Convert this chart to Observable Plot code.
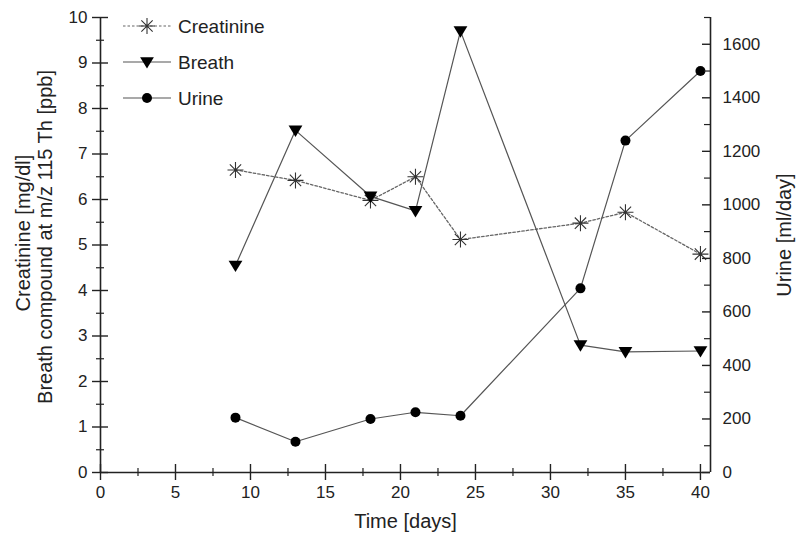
<!DOCTYPE html>
<html>
<head>
<meta charset="utf-8">
<script src="https://cdn.jsdelivr.net/npm/d3@7"></script>
<script src="https://cdn.jsdelivr.net/npm/@observablehq/plot@0.6"></script>
<style>
  body { margin: 0; background: #fff; }
  #chart svg { display: block; }
</style>
</head>
<body>
<div id="chart"></div>
<script>
// ---- data ----
const days = [9, 13, 18, 21, 24, 32, 35, 40];
const creatinine = [6.65, 6.42, 5.98, 6.5, 5.12, 5.48, 5.72, 4.8];
const breath = [4.55, 7.52, 6.07, 5.75, 9.7, 2.8, 2.65, 2.67];
const urine = [205, 115, 200, 225, 212, 688, 1240, 1500];

const xTicks = [0, 5, 10, 15, 20, 25, 30, 35, 40];
const xMinor = [2.5, 7.5, 12.5, 17.5, 22.5, 27.5, 32.5, 37.5];
const leftTicks = [0, 1, 2, 3, 4, 5, 6, 7, 8, 9, 10];
const leftMinor = [0.5, 1.5, 2.5, 3.5, 4.5, 5.5, 6.5, 7.5, 8.5, 9.5];
const rightTicks = [0, 200, 400, 600, 800, 1000, 1200, 1400, 1600];
const rightMinor = [100, 300, 500, 700, 900, 1100, 1300, 1500, 1700];
const seriesNames = ["Creatinine", "Breath", "Urine"];

// ---- scales ----
const xMax = 40.67;
const leftMax = 10;
const rightMax = 1700;
const toLeft = v => v * leftMax / rightMax;

const rows = days.map((d, i) => ({day: d, creatinine: creatinine[i], breath: breath[i], urine: urine[i]}));

// ---- custom symbols ----
const asterisk8 = {
  draw(ctx, size) {
    const r = Math.sqrt(size / Math.PI);
    const d = r * Math.SQRT1_2;
    ctx.moveTo(-r, 0); ctx.lineTo(r, 0);
    ctx.moveTo(0, -r); ctx.lineTo(0, r);
    ctx.moveTo(-d, -d); ctx.lineTo(d, d);
    ctx.moveTo(-d, d); ctx.lineTo(d, -d);
  }
};
const triDown = {
  draw(ctx, size) {
    const r = Math.sqrt(size / Math.PI);
    ctx.moveTo(-r * 1.15, -r * 0.8);
    ctx.lineTo(r * 1.15, -r * 0.8);
    ctx.lineTo(0, r * 1.1);
    ctx.closePath();
  }
};

const FONT = "'Liberation Sans', Arial, Helvetica, sans-serif";
const AX = "#222";

const plot = Plot.plot({
  width: 798,
  height: 542,
  marginLeft: 100,
  marginRight: 88,
  marginTop: 17,
  marginBottom: 70,
  x: {domain: [0, xMax]},
  y: {domain: [0, leftMax]},
  style: {fontFamily: FONT, fontSize: "17px", color: AX, background: "#fff"},
  marks: [
    // series lines
    Plot.line(rows, {x: "day", y: "creatinine", stroke: "#666", strokeWidth: 1.3, strokeDasharray: "2.5,2"}),
    Plot.line(rows, {x: "day", y: "breath", stroke: "#555", strokeWidth: 1.2}),
    Plot.line(rows, {x: "day", y: d => toLeft(d.urine), stroke: "#555", strokeWidth: 1.2}),
    // markers
    Plot.dot(rows, {x: "day", y: "creatinine", symbol: asterisk8, r: 8, stroke: "#333", fill: "none", strokeWidth: 1.1}),
    Plot.dot(rows, {x: "day", y: "breath", symbol: triDown, r: 6, fill: "#000", stroke: "none"}),
    Plot.dot(rows, {x: "day", y: d => toLeft(d.urine), r: 5, fill: "#000", stroke: "none"}),

    // axis lines
    Plot.ruleX([0], {stroke: AX, strokeWidth: 1.6}),
    Plot.ruleX([xMax], {stroke: AX, strokeWidth: 1.6}),
    Plot.ruleY([0], {stroke: AX, strokeWidth: 1.6}),

    // x axis ticks (crossing the axis line)
    Plot.ruleX(xTicks, {x: d => d, y1: 0, y2: 0, insetTop: -8, insetBottom: -8, stroke: AX, strokeWidth: 1.4}),
    Plot.ruleX(xMinor, {x: d => d, y1: 0, y2: 0, insetTop: -4, insetBottom: -4, stroke: AX, strokeWidth: 1.2}),
    Plot.axisX(xTicks, {anchor: "bottom", tickSize: 0, tickPadding: 13, label: null, fontSize: 17}),

    // left axis ticks (crossing)
    Plot.ruleY(leftTicks, {y: d => d, x1: 0, x2: 0, insetLeft: -8, insetRight: -8, stroke: AX, strokeWidth: 1.4}),
    Plot.ruleY(leftMinor, {y: d => d, x1: 0, x2: 0, insetLeft: -4, insetRight: -4, stroke: AX, strokeWidth: 1.2}),
    Plot.axisY(leftTicks, {anchor: "left", tickSize: 0, tickPadding: 13, label: null, fontSize: 17}),

    // right axis (urine, inward ticks)
    Plot.ruleY(rightTicks.map(toLeft), {y: d => d, x1: xMax, x2: xMax, insetLeft: -8, insetRight: 0, stroke: AX, strokeWidth: 1.4}),
    Plot.ruleY(rightMinor.map(toLeft), {y: d => d, x1: xMax, x2: xMax, insetLeft: -6, insetRight: 0, stroke: AX, strokeWidth: 1.2}),
    Plot.axisY(rightTicks.map(toLeft), {anchor: "right", tickSize: 0, tickPadding: 12, label: null, fontSize: 17,
      tickFormat: d => String(Math.round(d * rightMax / leftMax))}),

    // axis titles
    Plot.text(["Time [days]"], {frameAnchor: "bottom", dy: 55, fontSize: 20, fill: AX}),
    Plot.text(["Creatinine [mg/dl]"], {frameAnchor: "left", textAnchor: "middle", rotate: -90, dx: -77, dy: -12, fontSize: 20, fill: AX}),
    Plot.text(["Breath compound at m/z 115 Th [ppb]"], {frameAnchor: "left", textAnchor: "middle", rotate: -90, dx: -55, dy: -8, fontSize: 20, fill: AX}),
    Plot.text(["Urine [ml/day]"], {frameAnchor: "right", textAnchor: "middle", rotate: -90, dx: 74, dy: -10, fontSize: 20, fill: AX})
  ]
});

// ---- legend (inside the plot, top-left) ----
const legendSpec = [
  {label: seriesNames[0], dash: "2.5,2", lineStroke: "#666", symbol: asterisk8, size: 64 * Math.PI, fill: "none", stroke: "#333"},
  {label: seriesNames[1], dash: null, lineStroke: "#555", symbol: triDown, size: 36 * Math.PI, fill: "#000", stroke: "none"},
  {label: seriesNames[2], dash: null, lineStroke: "#555", symbol: d3.symbolCircle, size: 25 * Math.PI, fill: "#000", stroke: "none"}
];
const lg = d3.select(plot).append("g")
  .attr("font-family", FONT).attr("font-size", 19).attr("fill", AX).attr("text-anchor", "start");
legendSpec.forEach((s, i) => {
  const y = 26 + i * 36;
  lg.append("line").attr("x1", 123).attr("x2", 171).attr("y1", y).attr("y2", y)
    .attr("stroke", s.lineStroke).attr("stroke-width", 1.2).attr("stroke-dasharray", s.dash);
  lg.append("path").attr("transform", `translate(147,${y})`)
    .attr("d", d3.symbol(s.symbol, s.size)())
    .attr("fill", s.fill).attr("stroke", s.stroke).attr("stroke-width", 1.1);
  lg.append("text").attr("x", 178).attr("y", y).attr("dy", "0.35em").attr("text-anchor", "start").text(s.label);
});

document.getElementById("chart").appendChild(plot);
</script>
</body>
</html>
